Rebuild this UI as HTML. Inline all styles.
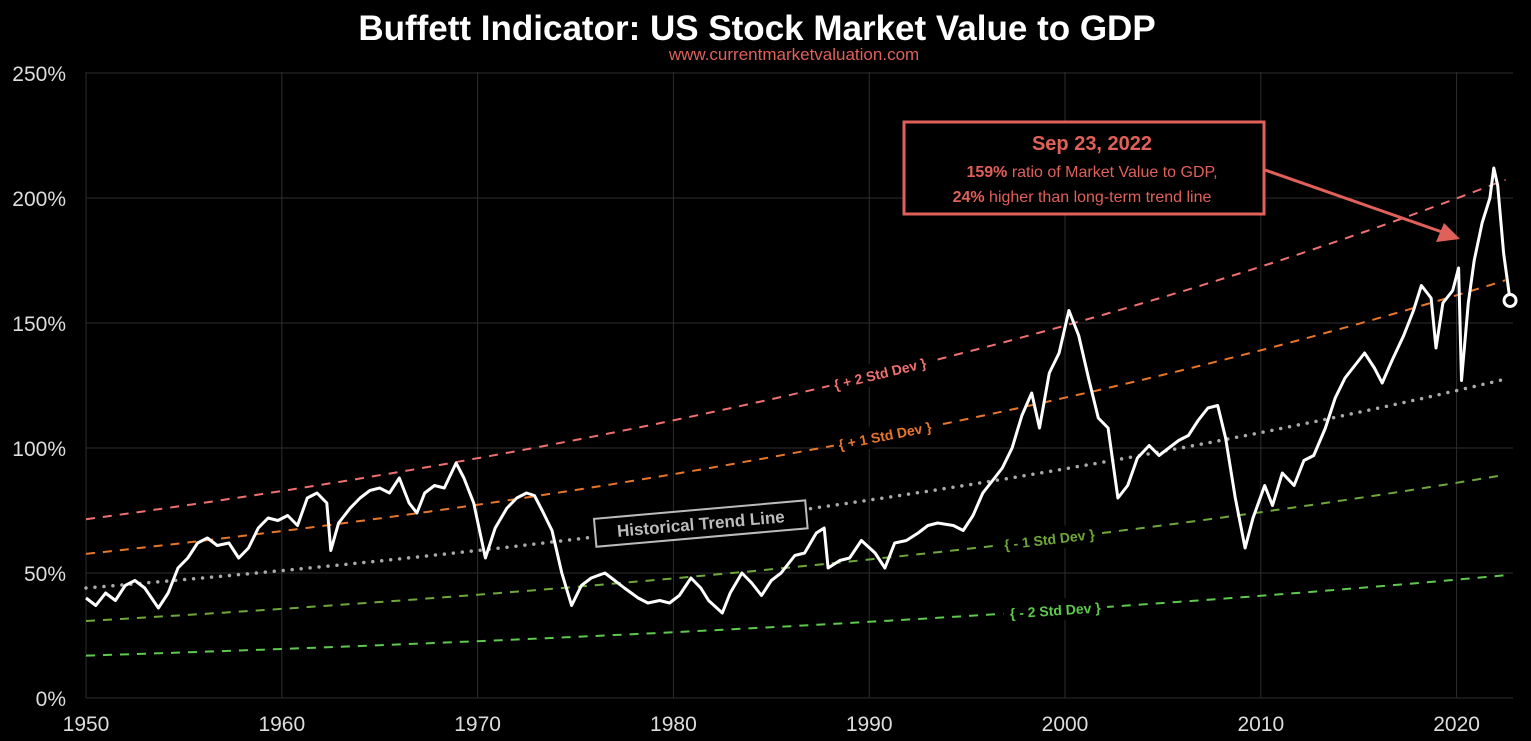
<!DOCTYPE html>
<html><head><meta charset="utf-8"><style>
html,body{margin:0;padding:0;background:#000;width:1531px;height:741px;overflow:hidden}
svg{display:block;font-family:"Liberation Sans",sans-serif}
</style></head><body>
<svg id="chart" width="1531" height="741" viewBox="0 0 1531 741">
<rect width="1531" height="741" fill="#000"/>
<text x="757" y="40" text-anchor="middle" fill="#fff" font-size="35" font-weight="bold">Buffett Indicator: US Stock Market Value to GDP</text>
<text x="794" y="60" text-anchor="middle" fill="#e0605a" font-size="17">www.currentmarketvaluation.com</text>
<g id="grid"></g><g id="bands"></g><g id="labels"></g><g id="series"></g>
</svg>
<script>
const years=[1950,1950.5,1951,1951.5,1952,1952.5,1953,1953.7,1954.2,1954.7,1955.2,1955.7,1956.2,1956.7,1957.3,1957.8,1958.3,1958.8,1959.3,1959.8,1960.3,1960.8,1961.3,1961.8,1962.3,1962.5,1962.9,1963.5,1964,1964.5,1965,1965.5,1966,1966.5,1966.9,1967.3,1967.8,1968.3,1968.9,1969.3,1969.8,1970.4,1970.9,1971.5,1972,1972.5,1972.9,1973.3,1973.8,1974.3,1974.8,1975.3,1975.8,1976.5,1977,1977.5,1978.2,1978.7,1979.3,1979.8,1980.3,1980.9,1981.4,1981.8,1982.5,1982.9,1983.5,1984,1984.5,1985,1985.5,1986.2,1986.7,1987.3,1987.7,1987.9,1988.5,1989,1989.6,1990.3,1990.8,1991.3,1991.9,1992.5,1993,1993.5,1994.3,1994.8,1995.3,1995.8,1996.3,1996.8,1997.3,1997.8,1998.3,1998.7,1999.2,1999.7,2000.2,2000.7,2001.2,2001.7,2002.2,2002.7,2003.2,2003.7,2004.3,2004.8,2005.3,2005.8,2006.3,2006.8,2007.3,2007.8,2008.2,2008.7,2009.2,2009.6,2010.2,2010.6,2011.1,2011.7,2012.2,2012.7,2013.3,2013.8,2014.3,2014.8,2015.3,2015.8,2016.2,2016.7,2017.3,2017.8,2018.2,2018.7,2018.95,2019.3,2019.8,2020.1,2020.25,2020.6,2020.9,2021.3,2021.7,2021.9,2022.1,2022.4,2022.73];
const ratio=[40,37,42,39,45,47,44,36,42,52,56,62,64,61,62,56,60,68,72,71,73,69,80,82,78,59,70,76,80,83,84,82,88,78,74,82,85,84,94,88,78,56,68,76,80,82,81,75,67,50,37,45,48,50,47,44,40,38,39,38,41,48,44,39,34,42,50,46,41,47,50,57,58,66,68,52,55,56,63,58,52,62,63,66,69,70,69,67,73,82,87,92,100,113,122,108,130,138,155,145,128,112,108,80,85,96,101,97,100,103,105,111,116,117,104,80,60,72,85,77,90,85,95,97,108,120,128,133,138,132,126,135,145,155,165,160,140,158,163,172,127,158,175,190,200,212,205,178,159];
const yTicks=[0,50,100,150,200,250];
const xTicks=[1950,1960,1970,1980,1990,2000,2010,2020];
const trendStart=[44];
const trendEnd=[128];
const bandFactors=[1.625,1.31,0.70,0.385];
const bandNames=["+ 2 Std Dev","+ 1 Std Dev","- 1 Std Dev","- 2 Std Dev"];
const bandColors=["#f07070","#e8762a","#6fa83a","#5ec94e"];
const bandLabelYears=[1990.55,1990.8,1999.2,1999.5];

const NS="http://www.w3.org/2000/svg";
const X=y=>86+(y-1950)*19.58;
const Y=v=>698-v*2.5;
function mk(tag,attrs,parent){const e=document.createElementNS(NS,tag);for(const k in attrs)e.setAttribute(k,attrs[k]);parent.appendChild(e);return e;}
const grid=document.getElementById('grid'),bands=document.getElementById('bands'),series=document.getElementById('series'),labels=document.getElementById('labels');
yTicks.forEach(t=>{
 const l=mk('line',{x1:86,x2:1513,y1:Y(t),y2:Y(t),stroke:'#2e2e2e','stroke-width':1},grid);
 
 
 const tx=mk('text',{x:66,y:Y(t)+8,'text-anchor':'end',fill:'#ddd','font-size':21},grid);
 tx.textContent=t+'%';
 
 
});
xTicks.forEach(t=>{
 const l=mk('line',{x1:X(t),x2:X(t),y1:72,y2:698,stroke:'#2e2e2e','stroke-width':1},grid);
 
 
 const tx=mk('text',{x:X(t),y:731,'text-anchor':'middle',fill:'#ddd','font-size':21},grid);
 tx.textContent=t;
 
 
});
const t0=1950,t1=2022.73,k=Math.log(trendEnd[0]/trendStart[0])/(t1-t0);
const trend=y=>trendStart[0]*Math.exp(k*(y-t0));
function curve(f){let d='';for(let y=t0;y<=t1+0.01;y+=0.5){d+=(d?'L':'M')+X(y).toFixed(1)+','+Y(f(y)).toFixed(1);}return d;}
bandFactors.forEach((fa,i)=>{
 const p=mk('path',{d:curve(y=>trend(y)*fa),fill:'none',stroke:bandColors[i],'stroke-width':2,'stroke-dasharray':'9 8'},bands);
 
 
});
const tl=mk('path',{d:curve(trend),fill:'none',stroke:'#aaa','stroke-width':3.5,'stroke-dasharray':'0 9','stroke-linecap':'round'},bands);


bandFactors.forEach((fa,i)=>{
 const yr=bandLabelYears[i];
 const f=y=>trend(y)*fa;
 const ang=Math.atan2(Y(f(yr+1))-Y(f(yr-1)),X(yr+1)-X(yr-1))*180/Math.PI;
 const g=mk('g',{transform:`translate(${X(yr)},${Y(f(yr))}) rotate(${ang})`},labels);
 
 
 mk('rect',{x:-52,y:-12,width:104,height:22,fill:'#000'},g);
 const tx=mk('text',{x:0,y:5,'text-anchor':'middle',fill:bandColors[i],'font-size':14,'font-weight':'bold'},g);
 tx.textContent='{ '+bandNames[i]+' }';
});
const hy=1981.4;
const hg=mk('g',{transform:`translate(${X(hy)},${Y(trend(hy))}) rotate(-5)`},labels);


mk('rect',{x:-106,y:-14,width:212,height:28,fill:'#000',stroke:'#bbb','stroke-width':2},hg);
const ht=mk('text',{x:0,y:6,'text-anchor':'middle',fill:'#bbb','font-size':17,'font-weight':'bold'},hg);
ht.textContent='Historical Trend Line';
let d='';years.forEach((y,i)=>{d+=(i?'L':'M')+X(y).toFixed(1)+','+Y(ratio[i]).toFixed(1);});
const sl=mk('path',{d:d,fill:'none',stroke:'#fff','stroke-width':3,'stroke-linejoin':'round'},series);


const last=years.length-1;
const dot=mk('circle',{cx:X(years[last]),cy:Y(ratio[last]),r:6,fill:'#000',stroke:'#fff','stroke-width':3},series);


</script>
<svg style="position:absolute;left:0;top:0" width="1531" height="741">
<rect x="904" y="122" width="360" height="92" fill="#000" stroke="#e0605a" stroke-width="3"/>
<text x="1092" y="150" text-anchor="middle" fill="#e0605a" font-size="20" font-weight="bold" font-family="Liberation Sans, sans-serif">Sep 23, 2022</text>
<text x="1092" y="177" text-anchor="middle" fill="#e0605a" font-size="16" font-family="Liberation Sans, sans-serif"><tspan font-weight="bold">159%</tspan> ratio of Market Value to GDP,</text>
<text x="1082" y="202" text-anchor="middle" fill="#e0605a" font-size="16" font-family="Liberation Sans, sans-serif"><tspan font-weight="bold">24%</tspan> higher than long-term trend line</text>
<line x1="1265" y1="170" x2="1442" y2="232" stroke="#e0605a" stroke-width="3"/>
<polygon points="1460,239 1436,242 1444,223" fill="#e0605a"/>
</svg>
</body></html>
